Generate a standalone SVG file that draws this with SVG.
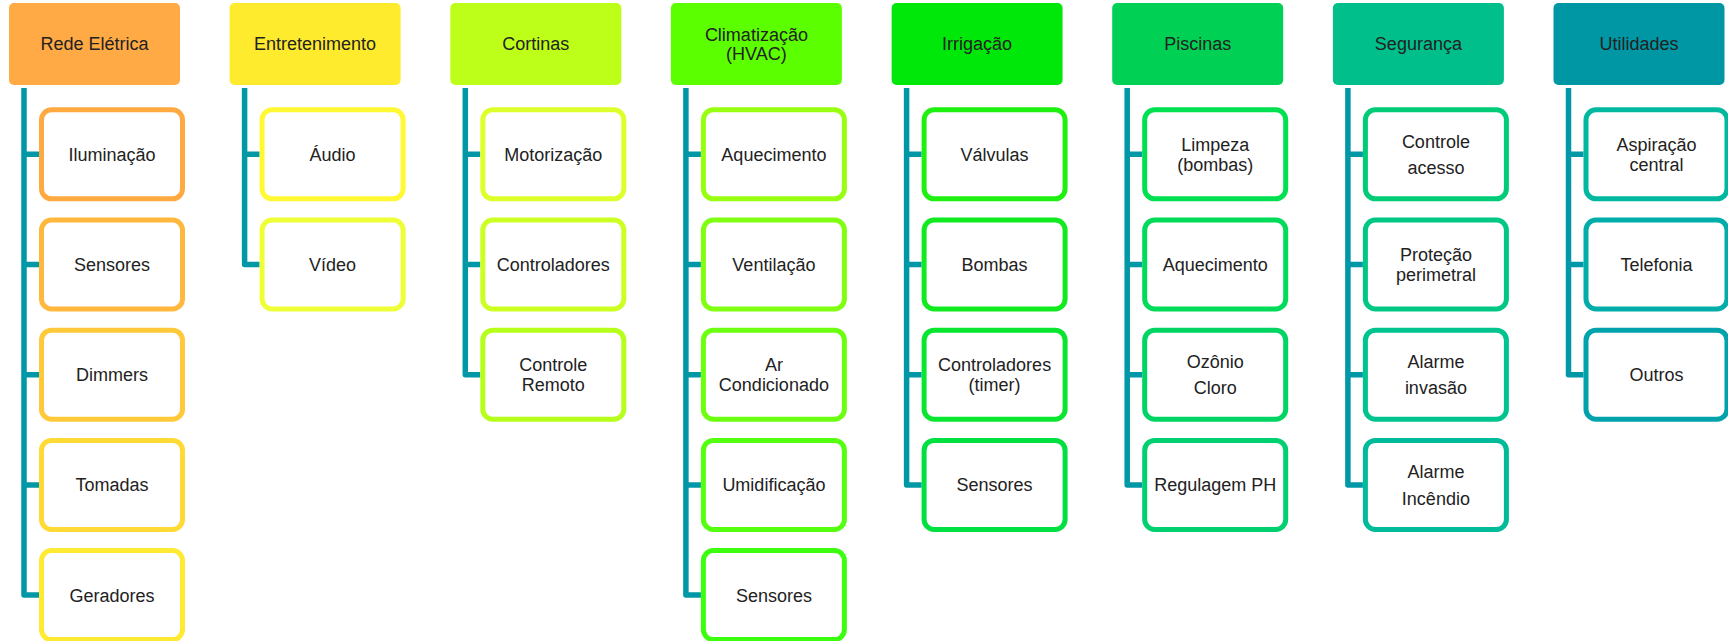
<svg xmlns="http://www.w3.org/2000/svg" width="1728" height="641" viewBox="0 0 1728 641">
<style>
.h{stroke:none}
.c{fill:#fff;stroke-width:5}
text{font-family:"Liberation Sans",Arial,sans-serif;font-size:18px;fill:#222;text-anchor:middle}
.conn path{fill:none;stroke:#0097A7;stroke-width:5.5;stroke-linejoin:round}
</style>
<rect width="1728" height="641" fill="#fff"/>
<g class="conn">
<path d="M24,88V154.3H39M24,88V264.5H39M24,88V374.7H39M24,88V484.9H39M24,88V595.1H39"/>
<path d="M244.6,88V154.3H259.6M244.6,88V264.5H259.6"/>
<path d="M465.3,88V154.3H480.3M465.3,88V264.5H480.3M465.3,88V374.7H480.3"/>
<path d="M685.9,88V154.3H700.9M685.9,88V264.5H700.9M685.9,88V374.7H700.9M685.9,88V484.9H700.9M685.9,88V595.1H700.9"/>
<path d="M906.6,88V154.3H921.6M906.6,88V264.5H921.6M906.6,88V374.7H921.6M906.6,88V484.9H921.6"/>
<path d="M1127.2,88V154.3H1142.2M1127.2,88V264.5H1142.2M1127.2,88V374.7H1142.2M1127.2,88V484.9H1142.2"/>
<path d="M1347.9,88V154.3H1362.9M1347.9,88V264.5H1362.9M1347.9,88V374.7H1362.9M1347.9,88V484.9H1362.9"/>
<path d="M1568.5,88V154.3H1583.5M1568.5,88V264.5H1583.5M1568.5,88V374.7H1583.5"/>
</g>

<!-- Column 1 -->
<g id="rede-eletrica"><rect class="h" x="9" y="3" width="171" height="82" rx="5" fill="#FFAA44"/><text x="94.5" y="50">Rede Elétrica</text></g>
<g id="iluminacao"><rect class="c" x="41.5" y="109.8" width="141" height="89" rx="10" stroke="#FFAA40"/><text x="112" y="160.8">Iluminação</text></g>
<g id="sensores1"><rect class="c" x="41.5" y="220" width="141" height="89" rx="10" stroke="#FFB83D"/><text x="112" y="271">Sensores</text></g>
<g id="dimmers"><rect class="c" x="41.5" y="330.2" width="141" height="89" rx="10" stroke="#FFC93A"/><text x="112" y="381.2">Dimmers</text></g>
<g id="tomadas"><rect class="c" x="41.5" y="440.4" width="141" height="89" rx="10" stroke="#FFDA36"/><text x="112" y="491.4">Tomadas</text></g>
<g id="geradores"><rect class="c" x="41.5" y="550.6" width="141" height="89" rx="10" stroke="#FFEA33"/><text x="112" y="601.6">Geradores</text></g>

<!-- Column 2 -->
<g id="entretenimento"><rect class="h" x="229.6" y="3" width="171" height="82" rx="5" fill="#FFEB2E"/><text x="315.1" y="50">Entretenimento</text></g>
<g id="audio"><rect class="c" x="262.1" y="109.8" width="141" height="89" rx="10" stroke="#FFF833"/><text x="332.6" y="160.8">Áudio</text></g>
<g id="video"><rect class="c" x="262.1" y="220" width="141" height="89" rx="10" stroke="#EEFF36"/><text x="332.6" y="271">Vídeo</text></g>

<!-- Column 3 -->
<g id="cortinas"><rect class="h" x="450.3" y="3" width="171" height="82" rx="5" fill="#BEFF1A"/><text x="535.8" y="50">Cortinas</text></g>
<g id="motorizacao"><rect class="c" x="482.8" y="109.8" width="141" height="89" rx="10" stroke="#DDFF2A"/><text x="553.3" y="160.8">Motorização</text></g>
<g id="controladores3"><rect class="c" x="482.8" y="220" width="141" height="89" rx="10" stroke="#CCFF22"/><text x="553.3" y="271">Controladores</text></g>
<g id="controle-remoto"><rect class="c" x="482.8" y="330.2" width="141" height="89" rx="10" stroke="#B5FF1A"/><text x="553.3" y="371.3">Controle</text><text x="553.3" y="391">Remoto</text></g>

<!-- Column 4 -->
<g id="climatizacao"><rect class="h" x="670.9" y="3" width="171" height="82" rx="5" fill="#5CFF00"/><text x="756.4" y="40.5">Climatização</text><text x="756.4" y="59.5">(HVAC)</text></g>
<g id="aquecimento4"><rect class="c" x="703.4" y="109.8" width="141" height="89" rx="10" stroke="#99FF10"/><text x="773.9" y="160.8">Aquecimento</text></g>
<g id="ventilacao"><rect class="c" x="703.4" y="220" width="141" height="89" rx="10" stroke="#80FF10"/><text x="773.9" y="271">Ventilação</text></g>
<g id="ar-condicionado"><rect class="c" x="703.4" y="330.2" width="141" height="89" rx="10" stroke="#6CFF10"/><text x="773.9" y="371.3">Ar</text><text x="773.9" y="391">Condicionado</text></g>
<g id="umidificacao"><rect class="c" x="703.4" y="440.4" width="141" height="89" rx="10" stroke="#55FF10"/><text x="773.9" y="491.4">Umidificação</text></g>
<g id="sensores4"><rect class="c" x="703.4" y="550.6" width="141" height="89" rx="10" stroke="#3CFF10"/><text x="773.9" y="601.6">Sensores</text></g>

<!-- Column 5 -->
<g id="irrigacao"><rect class="h" x="891.6" y="3" width="171" height="82" rx="5" fill="#00E80A"/><text x="977.1" y="50">Irrigação</text></g>
<g id="valvulas"><rect class="c" x="924.1" y="109.8" width="141" height="89" rx="10" stroke="#1EF010"/><text x="994.6" y="160.8">Válvulas</text></g>
<g id="bombas"><rect class="c" x="924.1" y="220" width="141" height="89" rx="10" stroke="#10EB20"/><text x="994.6" y="271">Bombas</text></g>
<g id="controladores-timer"><rect class="c" x="924.1" y="330.2" width="141" height="89" rx="10" stroke="#08E630"/><text x="994.6" y="371.3">Controladores</text><text x="994.6" y="391">(timer)</text></g>
<g id="sensores5"><rect class="c" x="924.1" y="440.4" width="141" height="89" rx="10" stroke="#00E040"/><text x="994.6" y="491.4">Sensores</text></g>

<!-- Column 6 -->
<g id="piscinas"><rect class="h" x="1112.2" y="3" width="171" height="82" rx="5" fill="#00D155"/><text x="1197.7" y="50">Piscinas</text></g>
<g id="limpeza"><rect class="c" x="1144.7" y="109.8" width="141" height="89" rx="10" stroke="#00E050"/><text x="1215.2" y="151">Limpeza</text><text x="1215.2" y="170.7">(bombas)</text></g>
<g id="aquecimento6"><rect class="c" x="1144.7" y="220" width="141" height="89" rx="10" stroke="#00DB5A"/><text x="1215.2" y="271">Aquecimento</text></g>
<g id="ozonio-cloro"><rect class="c" x="1144.7" y="330.2" width="141" height="89" rx="10" stroke="#00D564"/><text x="1215.2" y="367.9">Ozônio</text><text x="1215.2" y="394.4">Cloro</text></g>
<g id="regulagem-ph"><rect class="c" x="1144.7" y="440.4" width="141" height="89" rx="10" stroke="#00D070"/><text x="1215.2" y="491.4">Regulagem PH</text></g>

<!-- Column 7 -->
<g id="seguranca"><rect class="h" x="1332.9" y="3" width="171" height="82" rx="5" fill="#00BF8A"/><text x="1418.4" y="50">Segurança</text></g>
<g id="controle-acesso"><rect class="c" x="1365.4" y="109.8" width="141" height="89" rx="10" stroke="#00CC78"/><text x="1435.9" y="147.5">Controle</text><text x="1435.9" y="174">acesso</text></g>
<g id="protecao-perimetral"><rect class="c" x="1365.4" y="220" width="141" height="89" rx="10" stroke="#00C884"/><text x="1435.9" y="261.2">Proteção</text><text x="1435.9" y="280.9">perimetral</text></g>
<g id="alarme-invasao"><rect class="c" x="1365.4" y="330.2" width="141" height="89" rx="10" stroke="#00C490"/><text x="1435.9" y="367.9">Alarme</text><text x="1435.9" y="394.4">invasão</text></g>
<g id="alarme-incendio"><rect class="c" x="1365.4" y="440.4" width="141" height="89" rx="10" stroke="#00BB99"/><text x="1435.9" y="478.1">Alarme</text><text x="1435.9" y="504.6">Incêndio</text></g>

<!-- Column 8 -->
<g id="utilidades"><rect class="h" x="1553.5" y="3" width="171" height="82" rx="5" fill="#0097A5"/><text x="1639" y="50">Utilidades</text></g>
<g id="aspiracao-central"><rect class="c" x="1586" y="109.8" width="141" height="89" rx="10" stroke="#00B8A0"/><text x="1656.5" y="151">Aspiração</text><text x="1656.5" y="170.7">central</text></g>
<g id="telefonia"><rect class="c" x="1586" y="220" width="141" height="89" rx="10" stroke="#00ADA8"/><text x="1656.5" y="271">Telefonia</text></g>
<g id="outros"><rect class="c" x="1586" y="330.2" width="141" height="89" rx="10" stroke="#00A2AC"/><text x="1656.5" y="381.2">Outros</text></g>
</svg>
